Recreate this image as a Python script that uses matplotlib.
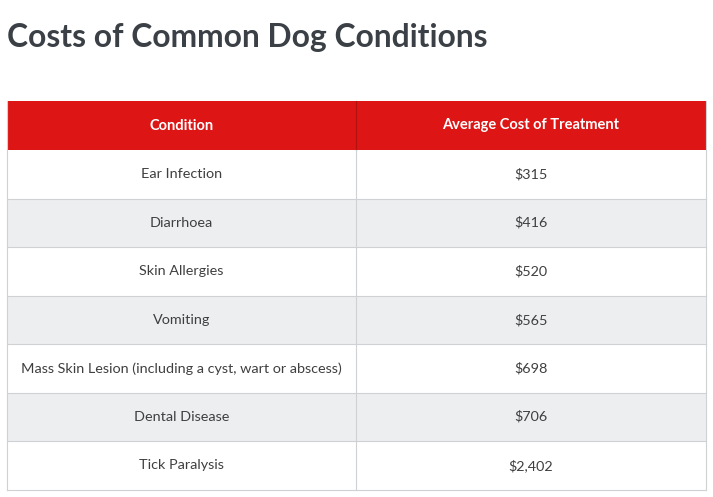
import matplotlib
matplotlib.use("Agg")
import matplotlib.pyplot as plt
from matplotlib.patches import Rectangle

title = "Costs of Common Dog Conditions"
headers = ["Condition", "Average Cost of Treatment"]
conditions = ["Ear Infection", "Diarrhoea", "Skin Allergies", "Vomiting",
              "Mass Skin Lesion (including a cyst, wart or abscess)",
              "Dental Disease", "Tick Paralysis"]
costs = [315, 416, 520, 565, 698, 706, 2402]

plt.rcParams['font.family'] = ['Lato', 'DejaVu Sans']

W, H = 713, 497
fig = plt.figure(figsize=(W / 100, H / 100), dpi=100)
ax = fig.add_axes([0, 0, 1, 1])
ax.set_xlim(0, W)
ax.set_ylim(H, 0)
ax.axis('off')

x0, x1, xmid = 7, 706, 356
top, head_h, row_h = 101, 49, 48.5
line = '#cfd2d5'

ax.text(7, 38, title, fontsize=22.9, fontweight='bold', color='#3a4045',
        ha='left', va='center')

# header
ax.add_patch(Rectangle((x0, top), x1 - x0, head_h, facecolor='#dd1515',
                       edgecolor='none'))
ax.plot([xmid, xmid], [top, top + head_h], color='#b51010', lw=0.8)
for (a, b), h in zip([(x0, xmid), (xmid, x1)], headers):
    ax.text((a + b) / 2, top + head_h / 2, h, fontsize=10.5, fontweight='bold',
            color='white', ha='center', va='center')

for i, (c, v) in enumerate(zip(conditions, costs)):
    y = top + head_h + i * row_h
    fc = 'white' if i % 2 == 0 else '#eceef0'
    ax.add_patch(Rectangle((x0, y), x1 - x0, row_h, facecolor=fc,
                           edgecolor='none'))
    ax.plot([x0, x1], [y + row_h, y + row_h], color=line, lw=0.8)
    ax.text((x0 + xmid) / 2, y + row_h / 2, c, fontsize=10.4, color='#3f3f3f',
            ha='center', va='center')
    ax.text((xmid + x1) / 2, y + row_h / 2, f"${v:,}", fontsize=10.4,
            color='#3f3f3f', ha='center', va='center')

bottom = top + head_h + len(conditions) * row_h
ax.plot([xmid, xmid], [top + head_h, bottom], color=line, lw=0.8)
ax.plot([x0, x0], [top, bottom], color=line, lw=0.8)
ax.plot([x1, x1], [top, bottom], color=line, lw=0.8)

fig.savefig("out.png", dpi=100)
